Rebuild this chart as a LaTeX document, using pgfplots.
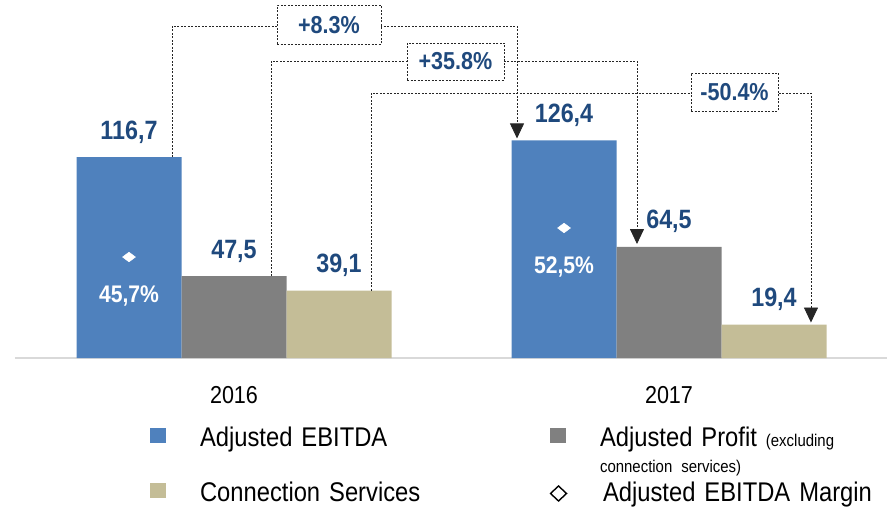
\documentclass[border=0pt]{standalone}
\usepackage{fontspec}
\setmainfont{Liberation Sans}[FakeStretch=0.88, WordSpace=0.85]
\usepackage{pgfplots}
\usepackage{pgfplotstable}
\pgfplotsset{compat=1.18}
\usetikzlibrary{arrows.meta}
\definecolor{ebitda}{RGB}{79,129,189}
\definecolor{profit}{RGB}{128,128,128}
\definecolor{conn}{RGB}{196,189,151}
\definecolor{valblue}{RGB}{31,73,125}
\definecolor{baseln}{RGB}{217,217,217}

% EUR m, x = year index (0 = 2016, 1 = 2017)
\pgfplotstableread{
year ebitda profit conn
0 116.7 47.5 39.1
1 126.4 64.5 19.4
}\results
% adjusted EBITDA margin in %
\pgfplotstableread{
year margin
0 45.7
1 52.5
}\margins

\tikzset{
  annot/.style={draw=black!85, line width=0.8pt, dash pattern=on 2pt off 1.5pt},
  chg/.style={annot, fill=white, text=valblue, inner sep=0pt,
    font=\bfseries\fontsize{24.5}{28}\selectfont},
}
\pgfkeys{/pgf/number format/.cd, fixed, fixed zerofill, precision=1, use comma, assume math mode=true}

\begin{document}
\begin{tikzpicture}
\useasboundingbox (-15pt,-151pt) rectangle (872pt,358pt);
\begin{axis}[
  at={(0pt,0pt)}, anchor=south west,
  scale only axis, width=872pt, height=358pt,
  xmin=-0.50345, xmax=1.50115, ymin=0, ymax=207.9,
  clip=false,
  ybar=0pt, bar width=105pt,
  axis x line*=bottom, axis y line=none,
  x axis line style={draw=baseln, line width=1.5pt, -},
  xtick={0,1}, xticklabels={2016,2017},
  major tick length=0pt,
  xticklabel style={anchor=base, inner sep=0pt, yshift=-45pt,
    font=\fontsize{24.5}{29}\selectfont},
  nodes near coords={\pgfmathprintnumber{\pgfplotspointmeta}},
  every node near coord/.append style={anchor=base, yshift=18pt, inner sep=0pt,
    text=valblue, font=\bfseries\fontsize{26.5}{30}\selectfont},
  legend columns=2,
  legend style={at={(0.1537,-0.1927)}, anchor=north west, draw=none, fill=none,
    inner sep=0pt, outer sep=0pt, column sep=0pt, row sep=29pt,
    cells={anchor=base west},
    nodes={inner sep=0pt, text height=20pt, text depth=6pt, text width=349pt,
      align=left, font=\fontsize{27}{31}\selectfont}},
  legend image code/.code={\fill[#1,draw=none] (1pt,4pt) rectangle (17pt,19pt);
    \path[draw=none, fill=none] (0pt,0pt) rectangle (51pt,1pt);},
]
\addplot[fill=ebitda, draw=none] table[x=year,y=ebitda]{\results};
\addlegendentry{Adjusted EBITDA}
\addplot[fill=profit, draw=none] table[x=year,y=profit]{\results};
\addlegendentry{Adjusted Profit {\fontsize{17}{20}\selectfont(excluding}\\[-5pt]{\fontsize{17}{20}\selectfont connection services)}}
\addplot[fill=conn, draw=none] table[x=year,y=conn]{\results};
\addlegendentry{Connection Services}
\addlegendimage{legend image code/.code={
    \draw[black, line width=1.4pt, fill=white] (1.5pt,8.5pt) -- (9.5pt,16pt) -- (17.5pt,8.5pt) -- (9.5pt,1pt) -- cycle;
    \path[draw=none, fill=none] (0pt,0pt) rectangle (51pt,1pt);}}
\addlegendentry{\hspace*{3pt}Adjusted EBITDA Margin}

% year-on-year change connectors
\draw[annot, -{Triangle[width=14pt,length=15pt]}] (axis cs:-0.1425,116.7) |- (axis cs:0.6506,192.8) -- (axis cs:0.6506,127.5);
\draw[annot, -{Triangle[width=14pt,length=15pt]}] (axis cs:0.0851,47.5) |- (axis cs:0.9264,172.5) -- (axis cs:0.9264,66.2);
\draw[annot, -{Triangle[width=14pt,length=15pt]}] (axis cs:0.3149,39.1) |- (axis cs:1.3264,153.9) -- (axis cs:1.3264,20.6);
\node[chg, minimum width=104pt, minimum height=39pt] at (axis cs:0.2184,193.4) {+8.3\%};
\node[chg, minimum width=97pt, minimum height=37pt] at (axis cs:0.5092,172.2) {+35.8\%};
\node[chg, minimum width=87pt, minimum height=38pt] at (axis cs:1.1506,154.5) {-50.4\%};
\end{axis}

% margin on its own scale, markers inside the EBITDA bars
\begin{axis}[
  at={(0pt,0pt)}, anchor=south west,
  scale only axis, width=872pt, height=358pt,
  xmin=-0.50345, xmax=1.50115, ymin=22.02, ymax=105.96,
  hide axis, clip=false,
]
\addplot[only marks, mark=diamond*, mark size=6.5pt,
  mark options={xshift=-105pt, rotate=90, fill=white, draw=white},
  nodes near coords={\pgfmathprintnumber{\pgfplotspointmeta}\%},
  every node near coord/.append style={anchor=base, yshift=-45pt,
    inner sep=0pt, text=white, font=\bfseries\fontsize{24}{28}\selectfont}]
  table[x=year,y=margin]{\margins};
\end{axis}
\end{tikzpicture}
\end{document}
